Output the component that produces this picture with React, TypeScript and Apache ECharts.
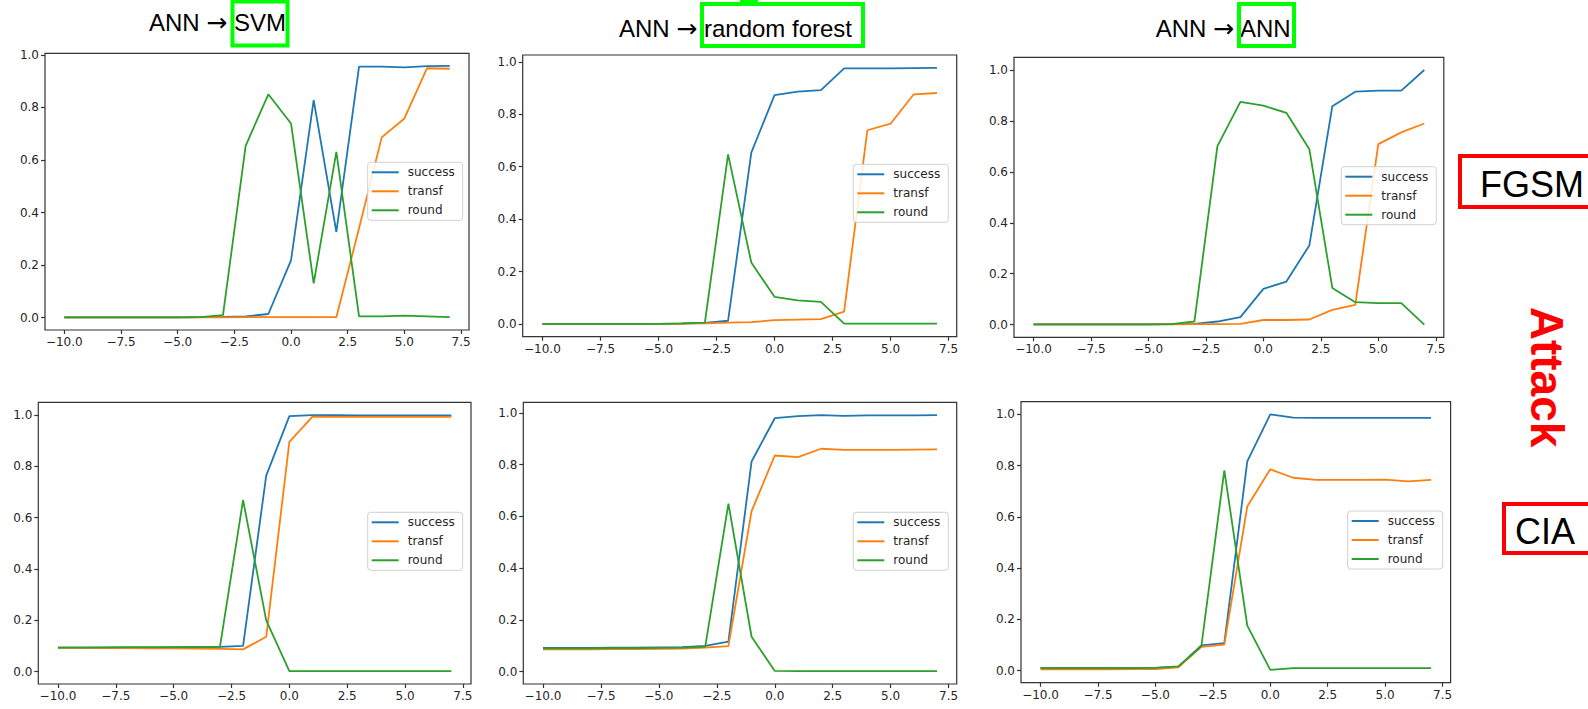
import React, { useEffect, useRef } from "react";
import * as echarts from "echarts";

// x values (log-scale exponent / parameter)
const XS = [-10, -9, -8, -7, -6, -5, -4, -3, -2, -1, 0, 1, 2, 3, 4, 5, 6, 7];
const X_TICKS = [-10, -7.5, -5, -2.5, 0, 2.5, 5, 7.5];
const Y_TICKS = [0, 0.2, 0.4, 0.6, 0.8, 1.0];
const SERIES_NAMES = ["success", "transf", "round"];

// FGSM attack, ANN -> SVM
const svmFgsmSuccess = [0.001, 0.001, 0.001, 0.001, 0.001, 0.001, 0.002, 0.003, 0.005, 0.014, 0.218, 0.828, 0.326, 0.955, 0.955, 0.952, 0.957, 0.958];
const svmFgsmTransf = [0.001, 0.001, 0.001, 0.001, 0.001, 0.001, 0.001, 0.001, 0.002, 0.002, 0.002, 0.002, 0.002, 0.34, 0.686, 0.758, 0.949, 0.947];
const svmFgsmRound = [0.001, 0.001, 0.001, 0.001, 0.001, 0.001, 0.002, 0.01, 0.654, 0.85, 0.739, 0.131, 0.631, 0.005, 0.005, 0.008, 0.005, 0.002];

// FGSM attack, ANN -> random forest
const rfFgsmSuccess = [0.001, 0.001, 0.001, 0.001, 0.001, 0.001, 0.002, 0.005, 0.013, 0.654, 0.873, 0.886, 0.892, 0.975, 0.975, 0.975, 0.976, 0.977];
const rfFgsmTransf = [0.001, 0.001, 0.001, 0.001, 0.001, 0.001, 0.002, 0.003, 0.006, 0.008, 0.015, 0.017, 0.019, 0.048, 0.739, 0.764, 0.876, 0.881];
const rfFgsmRound = [0.001, 0.001, 0.001, 0.001, 0.001, 0.001, 0.003, 0.006, 0.647, 0.235, 0.104, 0.091, 0.085, 0.002, 0.002, 0.002, 0.002, 0.002];

// FGSM attack, ANN -> ANN
const annFgsmSuccess = [0.001, 0.001, 0.001, 0.001, 0.001, 0.001, 0.002, 0.003, 0.012, 0.029, 0.14, 0.169, 0.311, 0.858, 0.915, 0.919, 0.919, 1.0];
const annFgsmTransf = [0.001, 0.001, 0.001, 0.001, 0.001, 0.001, 0.001, 0.002, 0.002, 0.003, 0.018, 0.018, 0.02, 0.058, 0.077, 0.709, 0.755, 0.79];
const annFgsmRound = [0.001, 0.001, 0.001, 0.001, 0.001, 0.001, 0.002, 0.012, 0.701, 0.875, 0.86, 0.832, 0.689, 0.144, 0.088, 0.084, 0.084, 0.0];

// CIA attack, ANN -> SVM
const svmCiaSuccess = [0.093, 0.093, 0.094, 0.094, 0.094, 0.095, 0.096, 0.097, 0.101, 0.764, 0.996, 1.0, 1.0, 0.999, 0.999, 0.999, 0.999, 0.999];
const svmCiaTransf = [0.093, 0.093, 0.092, 0.092, 0.091, 0.091, 0.09, 0.089, 0.087, 0.136, 0.896, 0.994, 0.993, 0.993, 0.993, 0.993, 0.993, 0.993];
const svmCiaRound = [0.095, 0.095, 0.095, 0.096, 0.096, 0.096, 0.097, 0.097, 0.669, 0.2, 0.002, 0.002, 0.002, 0.002, 0.002, 0.002, 0.002, 0.002];

// CIA attack, ANN -> random forest
const rfCiaSuccess = [0.092, 0.092, 0.092, 0.093, 0.093, 0.094, 0.095, 0.1, 0.116, 0.812, 0.979, 0.987, 0.991, 0.988, 0.99, 0.99, 0.99, 0.991];
const rfCiaTransf = [0.086, 0.086, 0.086, 0.087, 0.087, 0.088, 0.089, 0.093, 0.099, 0.62, 0.835, 0.829, 0.861, 0.857, 0.857, 0.857, 0.858, 0.859];
const rfCiaRound = [0.09, 0.09, 0.09, 0.091, 0.091, 0.092, 0.093, 0.097, 0.649, 0.135, 0.003, 0.002, 0.002, 0.002, 0.002, 0.002, 0.002, 0.002];

// CIA attack, ANN -> ANN
const annCiaSuccess = [0.01, 0.01, 0.01, 0.01, 0.01, 0.011, 0.016, 0.099, 0.108, 0.817, 1.0, 0.988, 0.987, 0.987, 0.987, 0.987, 0.987, 0.987];
const annCiaTransf = [0.005, 0.005, 0.005, 0.005, 0.006, 0.006, 0.013, 0.093, 0.102, 0.641, 0.786, 0.753, 0.745, 0.745, 0.745, 0.746, 0.739, 0.745];
const annCiaRound = [0.01, 0.01, 0.01, 0.01, 0.01, 0.011, 0.017, 0.095, 0.782, 0.176, 0.003, 0.01, 0.01, 0.01, 0.01, 0.01, 0.01, 0.01];

const PANEL_DATA = [
  [svmFgsmSuccess, svmFgsmTransf, svmFgsmRound],
  [rfFgsmSuccess, rfFgsmTransf, rfFgsmRound],
  [annFgsmSuccess, annFgsmTransf, annFgsmRound],
  [svmCiaSuccess, svmCiaTransf, svmCiaRound],
  [rfCiaSuccess, rfCiaTransf, rfCiaRound],
  [annCiaSuccess, annCiaTransf, annCiaRound],
];

const TITLES = ["SVM", "random forest", "ANN"];

// layout (pixels)
const GRIDS = [
  { left: 45, top: 53.3, width: 424, height: 276.7 },
  { left: 522.7, top: 55, width: 434, height: 281.7 },
  { left: 1014, top: 57.3, width: 429.8, height: 280 },
  { left: 38.3, top: 402.3, width: 432.7, height: 281.7 },
  { left: 523.3, top: 402.3, width: 433.4, height: 281.7 },
  { left: 1021, top: 401.7, width: 429.6, height: 281 },
];
const LEGEND_POS = [
  { left: 367.7, top: 162.3 },
  { left: 853.3, top: 164.3 },
  { left: 1341.3, top: 166.7 },
  { left: 367.7, top: 512.3 },
  { left: 853.3, top: 512.3 },
  { left: 1347.7, top: 511 },
];
const COLORS = ["#1f77b4", "#ff7f0e", "#2ca02c"];
const TICK_FONT = "'DejaVu Sans', sans-serif";
const LABEL_FONT = "'Liberation Sans', Arial, sans-serif";

const fmt = (v: number) => (v < 0 ? "\u2212" : "") + Math.abs(v).toFixed(1);

function titleText(x: number, y: number, target: string) {
  return {
    type: "text",
    x,
    y,
    style: {
      text: "{t|ANN }{a|\u2192}{t| " + target + "}",
      align: "center",
      verticalAlign: "middle",
      rich: {
        t: { font: `24px ${LABEL_FONT}`, fill: "#000", color: "#000" },
        a: { font: `25px ${TICK_FONT}`, fill: "#000", color: "#000" },
      },
    },
  };
}

function buildOption() {
  const grid: any[] = [];
  const xAxis: any[] = [];
  const yAxis: any[] = [];
  const series: any[] = [];
  const legend: any[] = [];
  const xMin = Math.min(...XS);
  const xMax = Math.max(...XS);
  const xPad = (xMax - xMin) * 0.05;

  PANEL_DATA.forEach((arrs, i) => {
    const all = arrs.flat();
    const lo = Math.min(...all);
    const hi = Math.max(...all);
    const pad = (hi - lo) * 0.05;
    grid.push({ ...GRIDS[i], show: true, borderColor: "#333", borderWidth: 1.2, backgroundColor: "#fff" });
    const axisCommon = {
      axisLine: { show: false, onZero: false },
      splitLine: { show: false },
      axisTick: { show: true, length: 4, lineStyle: { color: "#333", width: 1.2 } },
    };
    xAxis.push({
      type: "value",
      gridIndex: i,
      min: xMin - xPad,
      max: xMax + xPad,
      ...axisCommon,
      axisTick: { ...axisCommon.axisTick, customValues: X_TICKS },
      axisLabel: {
        customValues: X_TICKS,
        formatter: fmt,
        fontFamily: TICK_FONT,
        fontSize: 12,
        color: "#262626",
        margin: 6,
      },
    });
    yAxis.push({
      type: "value",
      gridIndex: i,
      min: lo - pad,
      max: hi + pad,
      ...axisCommon,
      axisTick: { ...axisCommon.axisTick, customValues: Y_TICKS },
      axisLabel: {
        customValues: Y_TICKS,
        formatter: fmt,
        fontFamily: TICK_FONT,
        fontSize: 12,
        color: "#262626",
        margin: 6,
      },
    });
    arrs.forEach((arr, k) => {
      series.push({
        type: "line",
        name: SERIES_NAMES[k],
        xAxisIndex: i,
        yAxisIndex: i,
        data: XS.map((x, j) => [x, arr[j]]),
        symbol: "none",
        showSymbol: false,
        lineStyle: { color: COLORS[k], width: 1.8 },
        itemStyle: { color: COLORS[k] },
        z: 2 + k,
      });
    });
    legend.push({
      ...LEGEND_POS[i],
      orient: "vertical",
      data: SERIES_NAMES,
      icon: "rect",
      itemWidth: 27,
      itemHeight: 2,
      itemGap: 5,
      selectedMode: false,
      backgroundColor: "rgba(255,255,255,0.85)",
      borderColor: "#d0d0d0",
      borderWidth: 1,
      borderRadius: 3,
      padding: [3, 8, 3, 4],
      textStyle: {
        fontFamily: TICK_FONT,
        fontSize: 12,
        color: "#262626",
        lineHeight: 14,
        padding: [0, 0, 0, 4],
      },
      z: 10,
    });
  });

  const graphic: any[] = [
    // column titles
    titleText(217.5, 22.5, TITLES[0]),
    { type: "rect", shape: { x: 232.5, y: 1.5, width: 55, height: 44 }, style: { fill: "none", stroke: "#00ff00", lineWidth: 4 } },
    titleText(735.5, 28, TITLES[1]),
    { type: "rect", shape: { x: 740, y: -2, width: 18, height: 5 }, style: { fill: "#00ff00" } },
    { type: "rect", shape: { x: 702, y: 4, width: 161, height: 42 }, style: { fill: "none", stroke: "#00ff00", lineWidth: 4 } },
    titleText(1223.5, 28, TITLES[2]),
    { type: "rect", shape: { x: 1239, y: 4, width: 55, height: 42 }, style: { fill: "none", stroke: "#00ff00", lineWidth: 4 } },
    // row labels
    { type: "rect", shape: { x: 1460, y: 156, width: 140, height: 51 }, style: { fill: "none", stroke: "#ff0000", lineWidth: 4 } },
    { type: "text", x: 1532, y: 184, style: { text: "FGSM", font: `36px ${LABEL_FONT}`, fill: "#000", align: "center", verticalAlign: "middle" } },
    { type: "text", x: 1547, y: 377, rotation: -Math.PI / 2, style: { text: "Attack", font: `bold 46px ${LABEL_FONT}`, fill: "#ff0000", align: "center", verticalAlign: "middle" } },
    { type: "rect", shape: { x: 1504, y: 504, width: 100, height: 49 }, style: { fill: "none", stroke: "#ff0000", lineWidth: 4 } },
    { type: "text", x: 1545, y: 531, style: { text: "CIA", font: `36px ${LABEL_FONT}`, fill: "#000", align: "center", verticalAlign: "middle" } },
  ];

  return { animation: false, backgroundColor: "#fff", grid, xAxis, yAxis, series, legend, graphic };
}

export default function App() {
  const ref = useRef<HTMLDivElement>(null);
  useEffect(() => {
    if (!ref.current) return;
    const chart = echarts.init(ref.current, undefined, { renderer: "svg" });
    chart.setOption(buildOption() as any);
    return () => chart.dispose();
  }, []);
  return (
    <div
      ref={ref}
      style={{ position: "absolute", left: 0, top: 0, width: 1588, height: 709, background: "#fff" }}
    />
  );
}
